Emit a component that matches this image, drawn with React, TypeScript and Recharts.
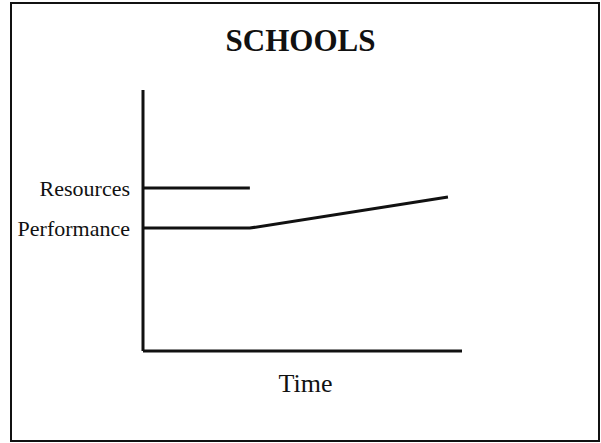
import React from "react";
import { LineChart, Line, XAxis, YAxis, Label } from "recharts";

const title = "SCHOOLS";
const xAxisTitle = "Time";
const yTickValues = [47.1, 62.5];
const yTickLabels = ["Performance", "Resources"];

const resourcesX = [0, 33.5];
const resourcesY = [62.5, 62.5];
const performanceX = [0, 33.5, 95.6];
const performanceY = [47.1, 47.1, 59.0];

const resourcesData = resourcesX.map((x, i) => ({ t: x, v: resourcesY[i] }));
const performanceData = performanceX.map((x, i) => ({ t: x, v: performanceY[i] }));

const FONT = "'Liberation Serif', 'Times New Roman', serif";

export default function App() {
  return (
    <div style={{ position: "absolute", left: 0, top: 0, width: 601, height: 443, background: "#fff" }}>
      <div
        style={{
          position: "absolute",
          left: 10,
          top: 2,
          width: 590,
          height: 440,
          boxSizing: "border-box",
          border: "2.5px solid #111",
        }}
      />
      <div
        style={{
          position: "absolute",
          left: 0,
          width: 601,
          top: 23,
          textAlign: "center",
          fontFamily: FONT,
          fontWeight: "bold",
          fontSize: 31,
          color: "#111",
          lineHeight: "36px",
        }}
      >
        {title}
      </div>
      <div style={{ position: "absolute", left: 0, top: 0 }}>
        <LineChart width={601} height={443} margin={{ top: 90, right: 139, bottom: 32, left: 8 }}>
          <XAxis
            type="number"
            dataKey="t"
            domain={[0, 100]}
            ticks={[]}
            tick={false}
            tickLine={false}
            height={60}
            axisLine={{ stroke: "#111", strokeWidth: 3 }}
            allowDuplicatedCategory={false}
          >
            <Label
              value={xAxisTitle}
              position="insideTop"
              offset={23}
              dx={3}
              style={{ fontFamily: FONT, fontSize: 26, fill: "#111" }}
            />
          </XAxis>
          <YAxis
            type="number"
            dataKey="v"
            domain={[0, 100]}
            ticks={yTickValues}
            width={135}
            tickSize={0}
            tickMargin={13}
            tickLine={false}
            axisLine={{ stroke: "#111", strokeWidth: 3 }}
            tickFormatter={(v: number) => yTickLabels[yTickValues.indexOf(v)] ?? ""}
            tick={{ fontFamily: FONT, fontSize: 22, fill: "#111" }}
          />
          <Line
            data={resourcesData}
            dataKey="v"
            stroke="#111"
            strokeWidth={3}
            dot={false}
            isAnimationActive={false}
            type="linear"
          />
          <Line
            data={performanceData}
            dataKey="v"
            stroke="#111"
            strokeWidth={3}
            dot={false}
            isAnimationActive={false}
            type="linear"
          />
        </LineChart>
      </div>
    </div>
  );
}
